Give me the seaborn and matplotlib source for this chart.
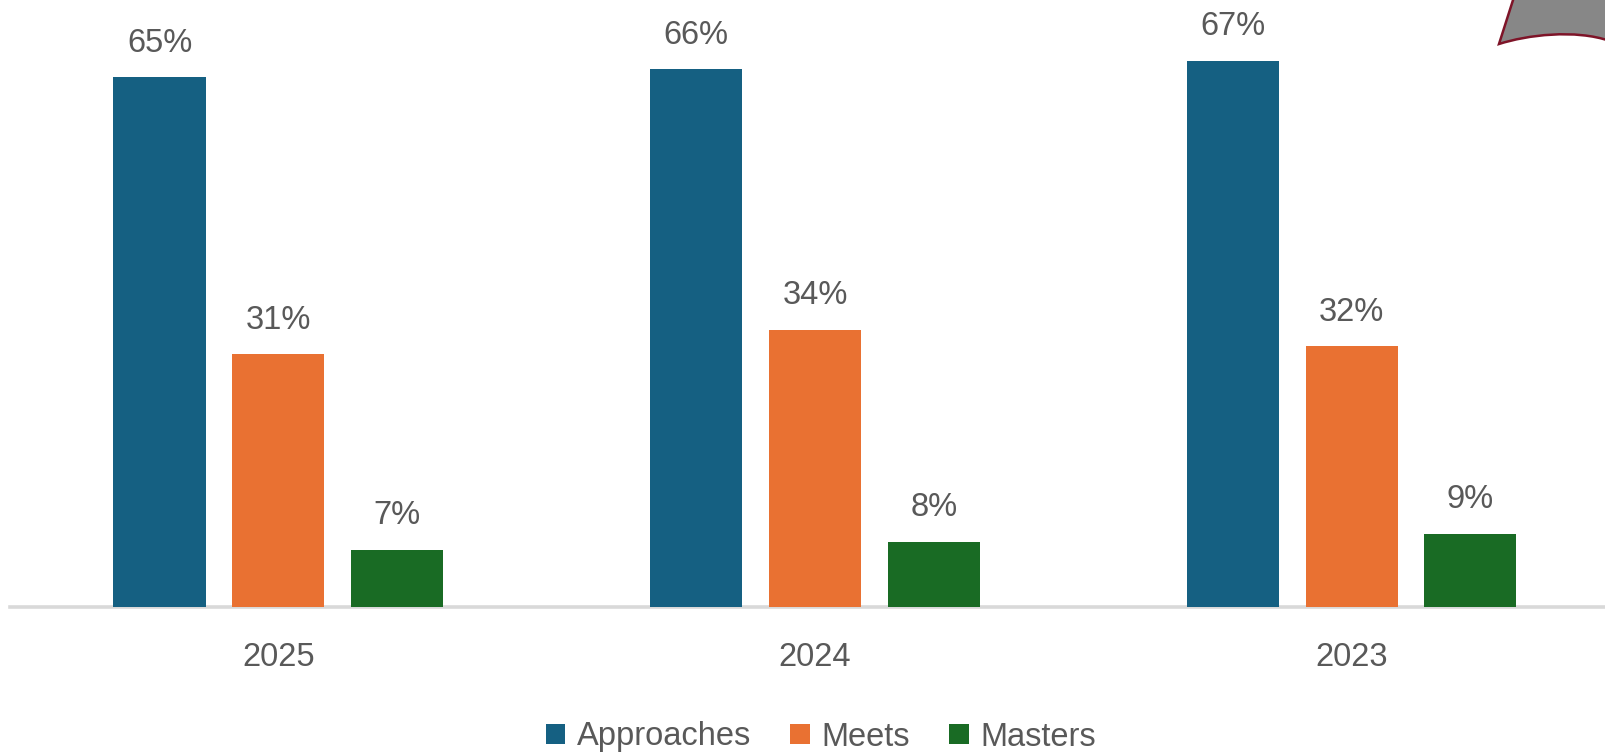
import matplotlib
matplotlib.use("Agg")
import matplotlib.pyplot as plt
from matplotlib.path import Path
from matplotlib.patches import PathPatch
import pandas as pd
import seaborn as sns

# Chart data
years = ["2025", "2024", "2023"]
levels = ["Approaches", "Meets", "Masters"]
approaches = [65, 66, 67]
meets = [31, 34, 32]
masters = [7, 8, 9]
colors = ["#156082", "#E97132", "#196B24"]

rows = []
for level, vals in zip(levels, [approaches, meets, masters]):
    for yr, v in zip(years, vals):
        rows.append({"Year": yr, "Level": level, "Percent": v})
df = pd.DataFrame(rows)

sns.set_theme(style="white")
plt.rcParams["font.family"] = ["Liberation Sans", "DejaVu Sans"]

W, H = 1606, 752
fig = plt.figure(figsize=(W / 100, H / 100), dpi=100)
fig.patch.set_facecolor("white")
ax = fig.add_axes([10 / W, (H - 607) / H, 1596 / W, 607 / H])

sns.barplot(
    data=df, x="Year", y="Percent", hue="Level",
    order=years, hue_order=levels, palette=colors,
    width=0.664, gap=0.224, saturation=1, ax=ax, linewidth=0,
)

text_gray = "#595959"
fs = 23.5

for cont, vals in zip(ax.containers, [approaches, meets, masters]):
    ax.bar_label(cont, labels=[f"{v}%" for v in vals], padding=13.5,
                 fontsize=fs, color=text_gray)

ax.set_xlim(-0.5, 2.474)
ax.set_ylim(0, 74.5)
ax.set_xlabel("")
ax.set_ylabel("")
ax.set_yticks([])
ax.tick_params(axis="x", length=0, pad=25.5, labelsize=fs, labelcolor=text_gray)
for side in ["top", "left", "right"]:
    ax.spines[side].set_visible(False)
ax.spines["bottom"].set_color("#D9D9D9")
ax.spines["bottom"].set_linewidth(2.6)
ax.spines["bottom"].set_zorder(0)

sns.move_legend(
    ax, loc="center", bbox_to_anchor=((821 - 10) / 1596, (607 - 737) / 607),
    ncol=3, frameon=False, title=None, fontsize=fs, labelcolor=text_gray,
    handlelength=0.6, handleheight=0.6, handletextpad=0.36, columnspacing=1.2,
)

# Decorative corner shape at the top right
def fp(x, y):
    return (x / W, 1 - y / H)

verts = [fp(1514, -3), fp(1499, 44), fp(1527, 35), fp(1575, 29), fp(1610, 41),
         fp(1610, -3), fp(1514, -3)]
codes = [Path.MOVETO, Path.LINETO, Path.CURVE4, Path.CURVE4, Path.CURVE4,
         Path.LINETO, Path.CLOSEPOLY]
shape = PathPatch(Path(verts, codes), transform=fig.transFigure,
                  facecolor="#878787", edgecolor="#7E1428", linewidth=1.8,
                  clip_on=False)
fig.patches.append(shape)

fig.savefig("out.png", dpi=100, facecolor="white")
